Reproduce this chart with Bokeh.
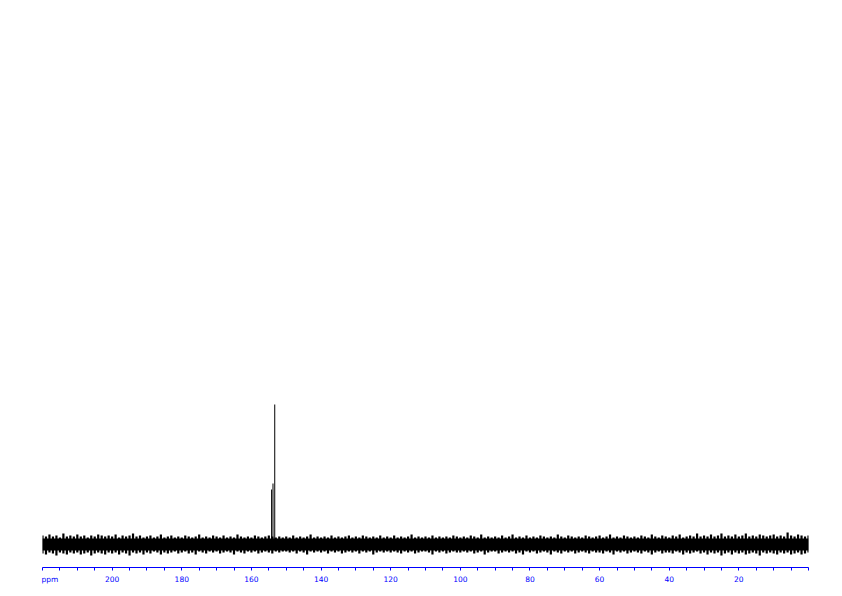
from bokeh.plotting import figure
from bokeh.models import Range1d, FixedTicker
from bokeh.embed import file_html
from bokeh.resources import INLINE

# --- data ---
# chemical shift grid of the baseline noise, ppm (1 ppm sampling)
noise_ppm = list(range(220, -1, -1))
# solid core of the baseline noise band (arbitrary intensity units)
noise_core = 6
# upper / lower spikes of the baseline noise (arbitrary intensity units)
noise_top = [
    9, 8, 10, 8, 9, 7, 11, 8, 9, 8,
    10, 8, 9, 7, 9, 8, 10, 9, 8, 9,
    8, 10, 7, 9, 8, 9, 11, 8, 9, 7,
    8, 9, 7, 8, 10, 7, 8, 9, 7, 8,
    7, 9, 8, 7, 8, 10, 7, 8, 7, 9,
    8, 7, 9, 7, 8, 7, 10, 8, 7, 8,
    7, 9, 8, 7, 8, 9, 8, 7, 8, 7,
    8, 7, 9, 7, 8, 7, 8, 10, 7, 8,
    7, 8, 7, 9, 7, 8, 7, 8, 9, 7,
    8, 7, 9, 8, 7, 8, 7, 9, 7, 8,
    7, 9, 7, 8, 7, 8, 10, 7, 8, 7,
    8, 7, 9, 7, 8, 7, 8, 7, 9, 8,
    7, 8, 7, 9, 8, 7, 10, 7, 8, 7,
    8, 7, 9, 7, 8, 10, 7, 8, 7, 9,
    7, 8, 7, 9, 8, 7, 8, 7, 10, 8,
    7, 9, 8, 7, 8, 7, 9, 8, 7, 8,
    9, 7, 8, 10, 7, 8, 7, 9, 8, 7,
    8, 7, 9, 8, 7, 10, 8, 7, 9, 8,
    7, 9, 8, 10, 7, 8, 9, 8, 11, 8,
    9, 8, 10, 8, 9, 11, 8, 9, 8, 10,
    8, 9, 11, 8, 9, 8, 10, 9, 8, 9,
    10, 8, 9, 8, 12, 9, 8, 10, 9, 8,
    9,
]
noise_bottom = [
    -9, -10, -8, -9, -11, -8, -9, -10, -8, -9,
    -8, -10, -9, -8, -11, -9, -8, -9, -10, -8,
    -9, -8, -10, -8, -9, -11, -8, -9, -8, -10,
    -8, -9, -7, -8, -10, -8, -9, -8, -7, -9,
    -8, -7, -9, -8, -10, -7, -8, -9, -7, -8,
    -7, -9, -8, -7, -8, -10, -7, -8, -9, -7,
    -8, -7, -9, -8, -7, -8, -9, -7, -8, -7,
    -7, -8, -7, -9, -7, -8, -10, -7, -8, -7,
    -8, -7, -9, -7, -8, -7, -9, -8, -7, -8,
    -7, -9, -7, -8, -7, -10, -8, -7, -8, -7,
    -8, -7, -8, -9, -7, -8, -7, -9, -8, -7,
    -7, -8, -10, -7, -8, -7, -9, -8, -7, -8,
    -8, -7, -8, -7, -9, -8, -7, -10, -8, -7,
    -7, -9, -8, -7, -8, -7, -9, -8, -10, -7,
    -8, -7, -9, -8, -7, -8, -10, -7, -8, -9,
    -7, -8, -7, -9, -8, -7, -8, -9, -7, -8,
    -8, -9, -7, -8, -10, -7, -8, -7, -9, -8,
    -7, -8, -9, -7, -8, -10, -8, -7, -9, -8,
    -8, -9, -7, -8, -10, -8, -9, -8, -7, -9,
    -8, -10, -8, -9, -8, -11, -9, -8, -10, -8,
    -9, -8, -10, -9, -8, -9, -11, -8, -9, -8,
    -9, -10, -8, -9, -8, -10, -9, -8, -10, -9,
    -8,
]
# signals
peak_ppm = [154.2, 153.8, 153.3]
peak_height = [55, 61, 140]
# axis ticks
label_ticks = [20, 40, 60, 80, 100, 120, 140, 160, 180, 200]
unit_label = "ppm"
unit_label_pos = 217.85
minor_ticks = list(range(0, 221, 5))

BLUE = "#0000FF"

p = figure(
    width=834, height=588,
    frame_width=766, frame_height=559,
    min_border_left=42, min_border_right=26,
    min_border_top=8, min_border_bottom=21,
    x_range=Range1d(220, 0), y_range=Range1d(-23, 536),
    output_backend="svg", toolbar_location=None,
    x_axis_location="below",
)
p.yaxis.visible = False
p.grid.visible = False
p.outline_line_color = None
p.background_fill_color = "white"
p.border_fill_color = "white"

n = len(noise_ppm)
p.varea(x=noise_ppm, y1=[-noise_core] * n, y2=[noise_core] * n, fill_color="black")
p.segment(x0=noise_ppm, y0=noise_bottom, x1=noise_ppm, y1=noise_top,
          line_color="black", line_width=2.2)
p.segment(x0=peak_ppm, y0=[0] * len(peak_ppm), x1=peak_ppm, y1=peak_height,
          line_color="black", line_width=1)

ax = p.xaxis[0]
ax.ticker = FixedTicker(ticks=[unit_label_pos] + label_ticks, minor_ticks=minor_ticks)
ax.major_label_overrides = {unit_label_pos: unit_label}
ax.axis_line_color = BLUE
ax.axis_line_width = 1.2
ax.major_tick_line_color = None
ax.minor_tick_line_color = BLUE
ax.major_tick_in = 0
ax.major_tick_out = 3
ax.minor_tick_in = 0
ax.minor_tick_out = 3
ax.major_label_text_color = BLUE
ax.major_label_text_font = "DejaVu Sans"
ax.major_label_text_font_size = "7.5px"
ax.major_label_standoff = 4

open("out.html", "w").write(file_html(p, INLINE))
